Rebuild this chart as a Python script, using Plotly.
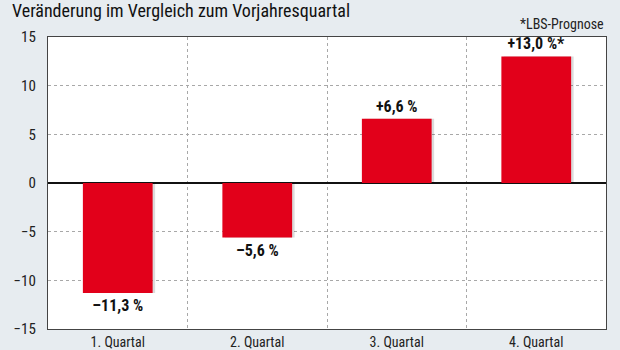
import plotly.graph_objects as go

# Quarterly change vs. same quarter of previous year (%)
quarters = ["1. Quartal", "2. Quartal", "3. Quartal", "4. Quartal"]
changes = [-11.3, -5.6, 6.6, 13.0]
forecast = [False, False, False, True]

y_ticks = [-15, -10, -5, 0, 5, 10, 15]


def fmt_num(v):
    return f"{v:g}".replace("-", "\u2212")


def fmt_label(v, is_forecast):
    sign = "+" if v > 0 else "\u2013"
    s = f"{sign}{abs(v):.1f}".replace(".", ",") + " %"
    return s + ("*" if is_forecast else "")


labels = [fmt_label(v, f) for v, f in zip(changes, forecast)]

FONT = "Liberation Sans Narrow, Arial Narrow, Roboto Condensed, sans-serif"
RED = "#e2001a"

fig = go.Figure()

# soft drop shadow behind each bar
fig.add_trace(go.Bar(
    x=quarters, y=changes,
    width=0.5, offset=-0.232,
    marker=dict(color="rgba(0,0,0,0.14)", line=dict(width=0)),
    hoverinfo="skip", showlegend=False,
))

fig.add_trace(go.Bar(
    x=quarters, y=changes,
    width=0.5, offset=-0.25,
    marker=dict(color=RED, line=dict(width=0)),
    text=labels, textposition="outside",
    textfont=dict(family=FONT, size=16, color="#111111", weight="bold"),
    cliponaxis=False, showlegend=False,
))

fig.update_layout(
    width=620, height=350,
    barmode="overlay",
    paper_bgcolor="#e7ecf0",
    plot_bgcolor="#ffffff",
    margin=dict(l=48, r=14, t=37, b=21, autoexpand=False),
    font=dict(family=FONT, size=15, color="#222222"),
    xaxis=dict(
        type="category",
        automargin=False,
        tickson="boundaries",
        showgrid=True, gridcolor="#a8a8a8", griddash="dot", gridwidth=1,
        ticks="", ticklen=0, ticklabelstandoff=0,
        tickfont=dict(size=14, color="#222222"),
        showline=True, linecolor="#444444", linewidth=1.2, mirror=True,
        range=[-0.5, 3.5],
    ),
    yaxis=dict(
        automargin=False,
        range=[-15, 15],
        tickvals=y_ticks,
        ticktext=[fmt_num(v) for v in y_ticks],
        showgrid=True, gridcolor="#a8a8a8", griddash="dot", gridwidth=1,
        zeroline=True, zerolinecolor="#111111", zerolinewidth=1.6,
        ticks="", ticklabelstandoff=8,
        tickfont=dict(size=15, color="#222222"),
        showline=True, linecolor="#444444", linewidth=1.2, mirror=True,
    ),
    annotations=[
        dict(text="Veränderung im Vergleich zum Vorjahresquartal",
             xref="paper", yref="paper", x=-48/558, y=1 + 37/292,
             xanchor="left", yanchor="top", showarrow=False,
             xshift=10, yshift=2,
             font=dict(family=FONT, size=18, color="#111111")),
        dict(text="*LBS-Prognose",
             xref="paper", yref="paper", x=1, y=1,
             xanchor="right", yanchor="bottom", showarrow=False,
             yshift=3,
             font=dict(family=FONT, size=14, color="#222222")),
    ],
)

fig.write_html("out.html")
